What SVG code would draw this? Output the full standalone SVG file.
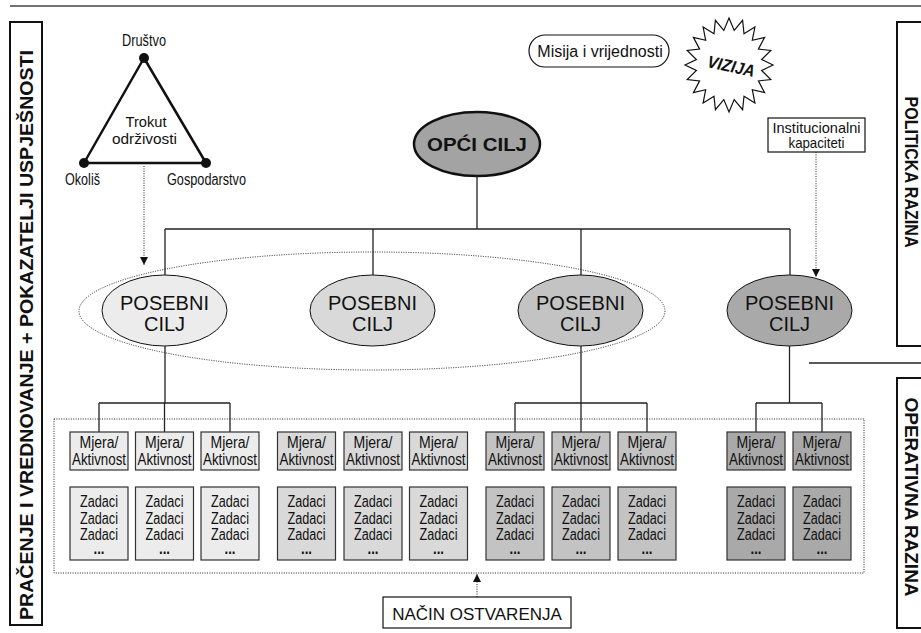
<svg xmlns="http://www.w3.org/2000/svg" width="921" height="633" viewBox="0 0 921 633">
  <style>
    text { font-family: "Liberation Sans", Arial, sans-serif; fill: #111; }
    .c { text-anchor: middle; }
    .side { font-weight: bold; font-size: 19px; text-anchor: middle; }
    .frame { fill: none; stroke: #111; stroke-width: 2; }
    .link { fill: none; stroke: #222; stroke-width: 1.3; }
    .dot { fill: none; stroke: #222; stroke-width: 1; stroke-dasharray: 1 1.4; }
    .goal { stroke: #111; stroke-width: 1; }
    .box { stroke: #333; stroke-width: 1.2; }
    .g1 { fill: #ececec; }
    .g2 { fill: #d9d9d9; }
    .g3 { fill: #c3c3c3; }
    .g4 { fill: #a9a9a9; }
    .lbl { font-size: 20px; }
    .small { font-size: 16px; }
  </style>
  <defs>
    <marker id="arrow" viewBox="0 0 8 8" refX="8" refY="4" markerWidth="8" markerHeight="8" markerUnits="userSpaceOnUse" orient="auto">
      <path d="M0,0 L8,4 L0,8 Z" fill="#111"/>
    </marker>
    <g id="measure">
      <rect x="-29" y="0" width="58" height="38" class="box"/>
      <text class="c small" y="16" textLength="39" lengthAdjust="spacingAndGlyphs">Mjera/</text>
      <text class="c small" y="33" textLength="54" lengthAdjust="spacingAndGlyphs">Aktivnost</text>
    </g>
    <g id="tasks">
      <rect x="-29" y="0" width="58" height="73" class="box"/>
      <text class="c small" y="20" textLength="38" lengthAdjust="spacingAndGlyphs">Zadaci</text>
      <text class="c small" y="37" textLength="38" lengthAdjust="spacingAndGlyphs">Zadaci</text>
      <text class="c small" y="53" textLength="38" lengthAdjust="spacingAndGlyphs">Zadaci</text>
      <text class="c small" y="67" font-weight="bold" textLength="11" lengthAdjust="spacingAndGlyphs">...</text>
    </g>
  </defs>

  <rect width="921" height="633" fill="#fff"/>

  <!-- top rule -->
  <line x1="10" y1="6" x2="921" y2="6" stroke="#444" stroke-width="1.5"/>

  <!-- side bands -->
  <g id="band-left">
    <rect x="10" y="22" width="32" height="603" class="frame"/>
    <text class="side" transform="translate(33,335) rotate(-90)" textLength="570" lengthAdjust="spacingAndGlyphs">PRAČENJE I VREDNOVANJE + POKAZATELJI USPJEŠNOSTI</text>
  </g>
  <g id="band-policy">
    <rect x="897" y="22" width="40" height="324" class="frame"/>
    <text class="side" font-size="18" transform="translate(905,172) rotate(90)" textLength="151" lengthAdjust="spacingAndGlyphs">POLITICKA RAZINA</text>
  </g>
  <line x1="809" y1="363" x2="921" y2="363" stroke="#222" stroke-width="1.3"/>
  <g id="band-operative">
    <rect x="897" y="378" width="40" height="250" class="frame"/>
    <text class="side" font-size="18" transform="translate(905,497) rotate(90)" textLength="199" lengthAdjust="spacingAndGlyphs">OPERATIVNA RAZINA</text>
  </g>

  <!-- sustainability triangle -->
  <g id="triangle">
    <polygon points="144,58 84,163 206,163" fill="none" stroke="#111" stroke-width="2.5" stroke-linejoin="round"/>
    <circle cx="144" cy="58" r="5" fill="#111"/>
    <circle cx="84" cy="163" r="5" fill="#111"/>
    <circle cx="206" cy="163" r="5" fill="#111"/>
    <text class="c" x="144" y="46" font-size="16" textLength="44" lengthAdjust="spacingAndGlyphs">Društvo</text>
    <text class="c" x="82.5" y="185" font-size="16" textLength="35" lengthAdjust="spacingAndGlyphs">Okoliš</text>
    <text class="c" x="206.5" y="185" font-size="16" textLength="79" lengthAdjust="spacingAndGlyphs">Gospodarstvo</text>
    <text class="c" x="146" y="126.5" font-size="15" textLength="41" lengthAdjust="spacingAndGlyphs">Trokut</text>
    <text class="c" x="144.5" y="143.5" font-size="15" textLength="65" lengthAdjust="spacingAndGlyphs">održivosti</text>
  </g>

  <!-- mission pill -->
  <g id="mission">
    <rect x="529" y="35" width="140" height="32" rx="16" fill="#fff" stroke="#111" stroke-width="1.2"/>
    <text class="c" x="600" y="57" font-size="16">Misija i vrijednosti</text>
  </g>

  <!-- vision starburst -->
  <g id="vision">
    <polygon fill="#fff" stroke="#111" stroke-width="1.2" stroke-linejoin="miter"
      points="729,18 734.2,30.4 742.6,20.3 744,33.8 754.9,27 752.3,40.3 764.6,37.4 758.4,49.1 770.8,50.5 761.6,59.5 773,65 761.6,70.5 770.8,79.5 758.4,80.9 764.6,92.6 752.3,89.7 754.9,103 744,96.2 742.6,109.7 734.2,99.6 729,112 723.8,99.6 715.4,109.7 714,96.2 703.1,103 705.7,89.7 693.4,92.6 699.6,80.9 687.2,79.5 696.4,70.5 685,65 696.4,59.5 687.2,50.5 699.6,49.1 693.4,37.4 705.7,40.3 703.1,27 714,33.8 715.4,20.3 723.8,30.4"/>
    <text class="c" font-size="17" font-weight="bold" font-style="italic" transform="translate(730,72) rotate(12)" textLength="48" lengthAdjust="spacingAndGlyphs">VIZIJA</text>
  </g>

  <!-- general goal -->
  <g id="general-goal">
    <ellipse cx="477" cy="144" rx="63" ry="32" fill="#a3a3a3" stroke="#111" stroke-width="2.5"/>
    <text class="c" x="477" y="151" font-size="19" font-weight="bold" textLength="100" lengthAdjust="spacingAndGlyphs">OPĆI CILJ</text>
  </g>

  <!-- institutional capacities -->
  <g id="capacities">
    <rect x="768" y="118" width="97" height="34" fill="#fff" stroke="#111" stroke-width="1.2"/>
    <text class="c" x="816.5" y="133" font-size="14.5" textLength="88" lengthAdjust="spacingAndGlyphs">Institucionalni</text>
    <text class="c" x="816.5" y="147.5" font-size="14.5" textLength="56" lengthAdjust="spacingAndGlyphs">kapaciteti</text>
  </g>

  <!-- connectors -->
  <g id="connectors">
    <path class="link" d="M477,176 V229 M165,229 H790 M165,229 V275 M373,229 V275 M581,229 V275 M790,229 V275"/>
    <path class="link" d="M165,346 V403 M99,403 H230 M99,403 V432 M164.5,403 V432 M230,403 V432"/>
    <path class="link" d="M581,346 V403 M515,403 H647 M515,403 V432 M581,403 V432 M647,403 V432"/>
    <path class="link" d="M789.5,346 V403 M756,403 H822 M756,403 V432 M822,403 V432"/>
    <line class="dot" x1="144" y1="166" x2="144" y2="265" marker-end="url(#arrow)"/>
    <line class="dot" x1="816" y1="152" x2="816" y2="277" marker-end="url(#arrow)"/>
    <line class="dot" x1="477" y1="597" x2="477" y2="574" marker-end="url(#arrow)"/>
  </g>

  <!-- grouping outlines -->
  <ellipse cx="372" cy="311" rx="293" ry="59" class="dot"/>
  <rect x="54" y="419" width="810" height="154" class="dot"/>

  <!-- specific goals -->
  <g id="goal-1">
    <ellipse cx="164.5" cy="310.5" rx="62.5" ry="35.5" class="goal g1"/>
    <text class="c lbl" x="164.5" y="310">POSEBNI</text>
    <text class="c lbl" x="164.5" y="331">CILJ</text>
  </g>
  <g id="goal-2">
    <ellipse cx="372.5" cy="310.5" rx="62.5" ry="35.5" class="goal g2"/>
    <text class="c lbl" x="372.5" y="310">POSEBNI</text>
    <text class="c lbl" x="372.5" y="331">CILJ</text>
  </g>
  <g id="goal-3">
    <ellipse cx="580.5" cy="310.5" rx="62.5" ry="35.5" class="goal g3"/>
    <text class="c lbl" x="580.5" y="310">POSEBNI</text>
    <text class="c lbl" x="580.5" y="331">CILJ</text>
  </g>
  <g id="goal-4">
    <ellipse cx="789.5" cy="310.5" rx="62.5" ry="35.5" class="goal g4"/>
    <text class="c lbl" x="789.5" y="310">POSEBNI</text>
    <text class="c lbl" x="789.5" y="331">CILJ</text>
  </g>

  <!-- measures and tasks -->
  <g id="measures-1" class="g1">
    <use href="#measure" x="99" y="432"/>
    <use href="#measure" x="164.5" y="432"/>
    <use href="#measure" x="230" y="432"/>
    <use href="#tasks" x="99" y="487"/>
    <use href="#tasks" x="164.5" y="487"/>
    <use href="#tasks" x="230" y="487"/>
  </g>
  <g id="measures-2" class="g2">
    <use href="#measure" x="306.5" y="432"/>
    <use href="#measure" x="373" y="432"/>
    <use href="#measure" x="438.5" y="432"/>
    <use href="#tasks" x="306.5" y="487"/>
    <use href="#tasks" x="373" y="487"/>
    <use href="#tasks" x="438.5" y="487"/>
  </g>
  <g id="measures-3" class="g3">
    <use href="#measure" x="515" y="432"/>
    <use href="#measure" x="581" y="432"/>
    <use href="#measure" x="647" y="432"/>
    <use href="#tasks" x="515" y="487"/>
    <use href="#tasks" x="581" y="487"/>
    <use href="#tasks" x="647" y="487"/>
  </g>
  <g id="measures-4" class="g4">
    <use href="#measure" x="756" y="432"/>
    <use href="#measure" x="822" y="432"/>
    <use href="#tasks" x="756" y="487"/>
    <use href="#tasks" x="822" y="487"/>
  </g>

  <!-- means of implementation -->
  <g id="implementation">
    <rect x="383" y="597" width="188" height="31" fill="#fff" stroke="#111" stroke-width="1.2"/>
    <text class="c" x="477" y="619.5" font-size="17">NAČIN OSTVARENJA</text>
  </g>
</svg>
